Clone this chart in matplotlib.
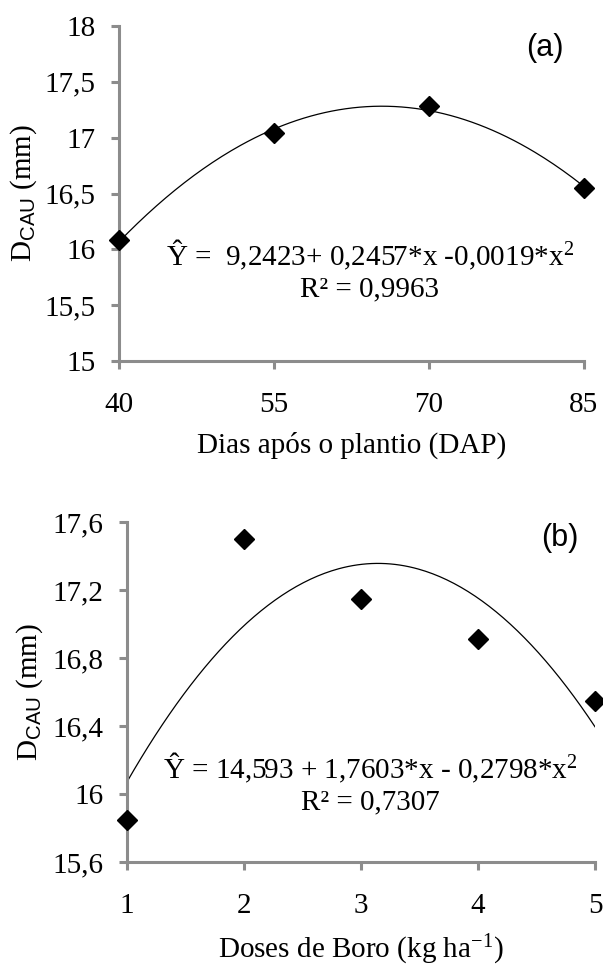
import matplotlib
matplotlib.use('Agg')
import matplotlib.pyplot as plt
import numpy as np

# panel (a): days after planting
dap = [40, 55, 70, 85]
dcau_dap = [16.08, 17.04, 17.28, 16.55]
yticks_a = [15, 15.5, 16, 16.5, 17, 17.5, 18]
ylabels_a = ['15', '15,5', '16', '16,5', '17', '17,5', '18']
eq_a = 'Ŷ =  9,2423+ 0,2457*x -0,0019*x$^{2}$\nR² = 0,9963'

# panel (b): boron doses
boro = [1, 2, 3, 4, 5]
dcau_boro = [15.85, 17.50, 17.15, 16.91, 16.55]
yticks_b = [15.6, 16, 16.4, 16.8, 17.2, 17.6]
ylabels_b = ['15,6', '16', '16,4', '16,8', '17,2', '17,6']
eq_b = 'Ŷ = 14,593 + 1,7603*x - 0,2798*x$^{2}$\nR² = 0,7307'

plt.rcParams['font.family'] = ['Liberation Serif', 'DejaVu Serif']
plt.rcParams['mathtext.fontset'] = 'custom'
plt.rcParams['mathtext.rm'] = 'Liberation Serif'
plt.rcParams['mathtext.sf'] = 'Liberation Sans'
plt.rcParams['mathtext.it'] = 'Liberation Serif:italic'

W, H = 603, 968
fig = plt.figure(figsize=(W / 100, H / 100), dpi=100)

spine_col = '#8c8c8c'
fs = 21


def px_axes(l, r, t, b):
    return fig.add_axes([l / W, 1 - b / H, (r - l) / W, (b - t) / H])


def style(ax):
    for s in ['top', 'right']:
        ax.spines[s].set_visible(False)
    for s in ['left', 'bottom']:
        ax.spines[s].set_color(spine_col)
        ax.spines[s].set_linewidth(2.2)
    ax.tick_params(direction='out', length=6, width=2.2, color=spine_col,
                   labelsize=fs)
    ax.tick_params(axis='x', pad=16)
    ax.tick_params(axis='y', pad=11)


def panel(ax, x, y, xlim, yticks, ylabels, eq, eq_xy, tag, tag_xy, xlabel):
    coef = np.polyfit(x, y, 2)
    xs = np.linspace(xlim[0], xlim[1], 200)
    ax.plot(xs, np.polyval(coef, xs), color='black', lw=0.9)
    ax.plot(x, y, 'D', color='black', ms=10, clip_on=False, zorder=5)
    ax.set_xlim(xlim)
    ax.set_xticks(x)
    ax.set_ylim(yticks[0], yticks[-1])
    ax.set_yticks(yticks)
    ax.set_yticklabels(ylabels)
    ax.set_xlabel(xlabel, fontsize=fs, labelpad=10)
    ax.set_ylabel(r'D$_{\mathsf{CAU}}$ (mm)', fontsize=fs)
    ax.text(eq_xy[0], eq_xy[1], eq, transform=fig.transFigure, fontsize=fs,
            ha='center', va='center', linespacing=1.25)
    ax.text(tag_xy[0], tag_xy[1], tag, transform=fig.transFigure, fontsize=22,
            family='Liberation Sans', ha='center', va='center')
    style(ax)


ax1 = px_axes(119, 584, 26, 361)
panel(ax1, dap, dcau_dap, (40, 85), yticks_a, ylabels_a, eq_a,
      (370 / W, 1 - 270 / H), '(a)', (545 / W, 1 - 48 / H),
      'Dias após o plantio (DAP)')
ax1.yaxis.set_label_coords((39 - 119) / (584 - 119), 0.5)

ax2 = px_axes(127, 595, 522, 862)
panel(ax2, boro, dcau_boro, (1, 5), yticks_b, ylabels_b, eq_b,
      (370 / W, 1 - 783 / H), '(b)', (560 / W, 1 - 538 / H),
      'Doses de Boro (kg ha$^{\\mathregular{-1}}$)')
ax2.yaxis.set_label_coords((45 - 127) / (595 - 127), 0.5)

fig.savefig('out.png', dpi=100)
